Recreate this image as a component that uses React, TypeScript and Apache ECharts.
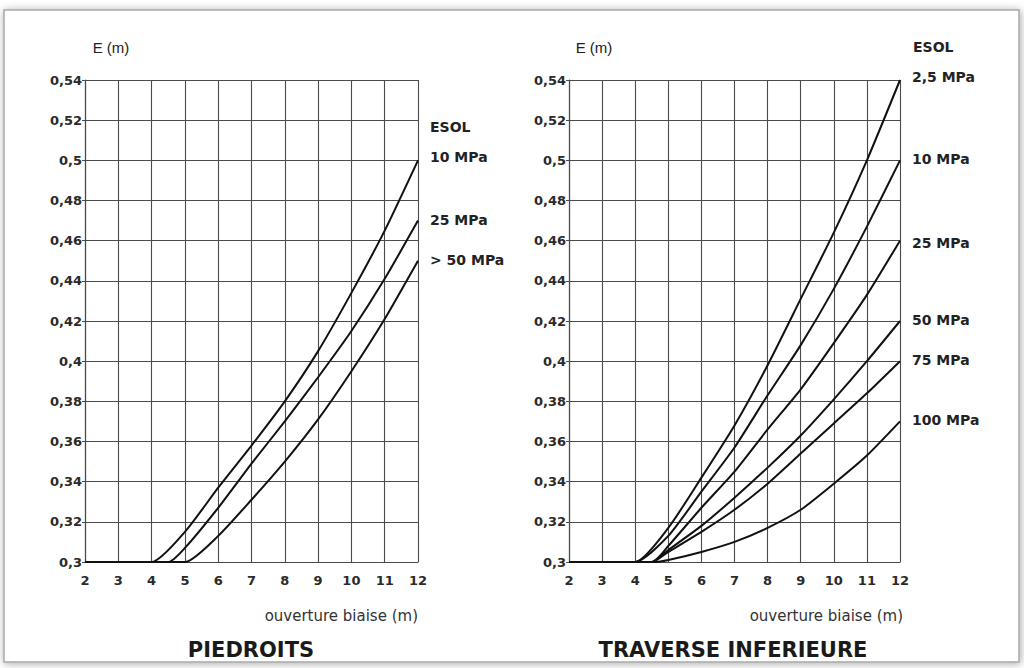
import React, { useEffect, useRef } from "react";
import * as echarts from "echarts";

// ---- data ----
const xTicks = [2, 3, 4, 5, 6, 7, 8, 9, 10, 11, 12];
const yMin = 0.3;
const yMax = 0.54;

const leftNames = ["10 MPa", "25 MPa", "> 50 MPa"];
const left10: number[][] = [[2, 0.3], [4, 0.3], [5, 0.315], [6, 0.337], [7, 0.358], [8, 0.38], [9, 0.405], [10, 0.434], [11, 0.465], [12, 0.5]];
const left25: number[][] = [[2, 0.3], [4.5, 0.3], [5, 0.307], [6, 0.327], [7, 0.349], [8, 0.37], [9, 0.392], [10, 0.415], [11, 0.441], [12, 0.47]];
const left50: number[][] = [[2, 0.3], [5, 0.3], [6, 0.313], [7, 0.331], [8, 0.35], [9, 0.371], [10, 0.395], [11, 0.421], [12, 0.45]];

const rightNames = ["2,5 MPa", "10 MPa", "25 MPa", "50 MPa", "75 MPa", "100 MPa"];
const right2_5: number[][] = [[2, 0.3], [4, 0.3], [5, 0.317], [6, 0.342], [7, 0.368], [8, 0.398], [9, 0.431], [10, 0.464], [11, 0.5], [12, 0.54]];
const right10: number[][] = [[2, 0.3], [4, 0.3], [5, 0.313], [6, 0.335], [7, 0.357], [8, 0.383], [9, 0.408], [10, 0.436], [11, 0.467], [12, 0.5]];
const right25: number[][] = [[2, 0.3], [4.5, 0.3], [5, 0.308], [6, 0.327], [7, 0.345], [8, 0.366], [9, 0.386], [10, 0.409], [11, 0.433], [12, 0.46]];
const right50: number[][] = [[2, 0.3], [4.5, 0.3], [5, 0.306], [6, 0.318], [7, 0.332], [8, 0.347], [9, 0.363], [10, 0.381], [11, 0.4], [12, 0.42]];
const right75: number[][] = [[2, 0.3], [4.5, 0.3], [5, 0.305], [6, 0.315], [7, 0.326], [8, 0.339], [9, 0.354], [10, 0.369], [11, 0.384], [12, 0.4]];
const right100: number[][] = [[2, 0.3], [4.6, 0.3], [5, 0.301], [6, 0.305], [7, 0.31], [8, 0.317], [9, 0.326], [10, 0.339], [11, 0.353], [12, 0.37]];

const leftTitle = "PIEDROITS";
const rightTitle = "TRAVERSE INFERIEURE";
const yAxisTitle = "E (m)";
const xAxisTitle = "ouverture biaise (m)";
const legendTitle = "ESOL";

const FONT = "DejaVu Sans";
const GRID_COLOR = "#4a4a4a";

function fmtY(v: number) {
  return String(+v.toFixed(2)).replace(".", ",");
}

export default function App() {
  const ref = useRef<HTMLDivElement>(null);

  useEffect(() => {
    if (!ref.current) return;
    const chart = echarts.init(ref.current, undefined, { renderer: "svg" });

    const xAxisBase = (gridIndex: number) => ({
      type: "value" as const,
      gridIndex,
      min: xTicks[0],
      max: xTicks[xTicks.length - 1],
      interval: 1,
      axisLine: { show: true, lineStyle: { color: GRID_COLOR, width: 1.2 } },
      axisTick: { show: false },
      splitLine: { show: true, lineStyle: { color: GRID_COLOR, width: 1.1 } },
      axisLabel: { margin: 12, fontFamily: FONT, fontWeight: "bold", fontSize: 13, color: "#2a2a2a" },
    });
    const yAxisBase = (gridIndex: number) => ({
      type: "value" as const,
      gridIndex,
      min: yMin,
      max: yMax,
      interval: 0.02,
      axisLine: { show: true, lineStyle: { color: GRID_COLOR, width: 1.2 } },
      axisTick: { show: true, length: 3, lineStyle: { color: GRID_COLOR } },
      splitLine: { show: true, lineStyle: { color: GRID_COLOR, width: 1.1 } },
      axisLabel: {
        margin: 3,
        formatter: (v: number) => fmtY(v),
        fontFamily: FONT,
        fontWeight: "bold",
        fontSize: 13,
        color: "#2a2a2a",
      },
    });

    const lineSeries = (name: string, data: number[][], idx: number, offY: number) => ({
      type: "line" as const,
      name,
      xAxisIndex: idx,
      yAxisIndex: idx,
      data,
      showSymbol: false,
      symbol: "none",
      smooth: 0.2,
      lineStyle: { color: "#111", width: 2 },
      endLabel: {
        show: true,
        formatter: "{a}",
        distance: 12,
        offset: [0, offY],
        fontFamily: FONT,
        fontWeight: "bold",
        fontSize: 14,
        color: "#222",
      },
      emphasis: { disabled: true },
      z: 3,
    });

    const text = (x: number, y: number, t: string, opts: any = {}) => ({
      type: "text" as const,
      x,
      y,
      z: 10,
      style: {
        text: t,
        fontFamily: FONT,
        fontSize: 14,
        fill: "#222",
        textAlign: "left",
        textVerticalAlign: "middle",
        ...opts,
      },
    });

    chart.setOption({
      animation: false,
      backgroundColor: "#ffffff",
      grid: [
        { left: 85, top: 80, width: 333, height: 482 },
        { left: 569, top: 80, width: 331, height: 482 },
      ],
      xAxis: [xAxisBase(0), xAxisBase(1)],
      yAxis: [yAxisBase(0), yAxisBase(1)],
      series: [
        lineSeries(leftNames[0], left10, 0, -3),
        lineSeries(leftNames[1], left25, 0, -1),
        lineSeries(leftNames[2], left50, 0, -1),
        lineSeries(rightNames[0], right2_5, 1, -3),
        lineSeries(rightNames[1], right10, 1, -1),
        lineSeries(rightNames[2], right25, 1, 2),
        lineSeries(rightNames[3], right50, 1, -1),
        lineSeries(rightNames[4], right75, 1, -1),
        lineSeries(rightNames[5], right100, 1, -1),
      ],
      graphic: [
        {
          type: "rect",
          z: -100,
          shape: { x: 4, y: 10, width: 1015, height: 652 },
          style: {
            fill: "#ffffff",
            stroke: "#a8a8a8",
            lineWidth: 1.5,
            shadowBlur: 8,
            shadowColor: "rgba(0,0,0,0.35)",
            shadowOffsetX: 1,
            shadowOffsetY: 1,
          },
        },
        text(111, 47, yAxisTitle, { fontFamily: "Liberation Sans", fontSize: 15, textAlign: "center" }),
        text(594, 47, yAxisTitle, { fontFamily: "Liberation Sans", fontSize: 15, textAlign: "center" }),
        text(430, 127, legendTitle, { fontWeight: "bold" }),
        text(913, 47, legendTitle, { fontWeight: "bold" }),
        text(418, 616, xAxisTitle, { fontSize: 15, textAlign: "right", fill: "#333" }),
        text(903, 616, xAxisTitle, { fontSize: 15, textAlign: "right", fill: "#333" }),
        text(251, 650, leftTitle, { fontSize: 21, fontWeight: "bold", textAlign: "center", fill: "#1a1a1a" }),
        text(733, 650, rightTitle, { fontSize: 21, fontWeight: "bold", textAlign: "center", fill: "#1a1a1a" }),
      ],
    });

    return () => chart.dispose();
  }, []);

  return (
    <div
      ref={ref}
      style={{ position: "absolute", left: 0, top: 0, width: 1024, height: 668, background: "#fff" }}
    />
  );
}
